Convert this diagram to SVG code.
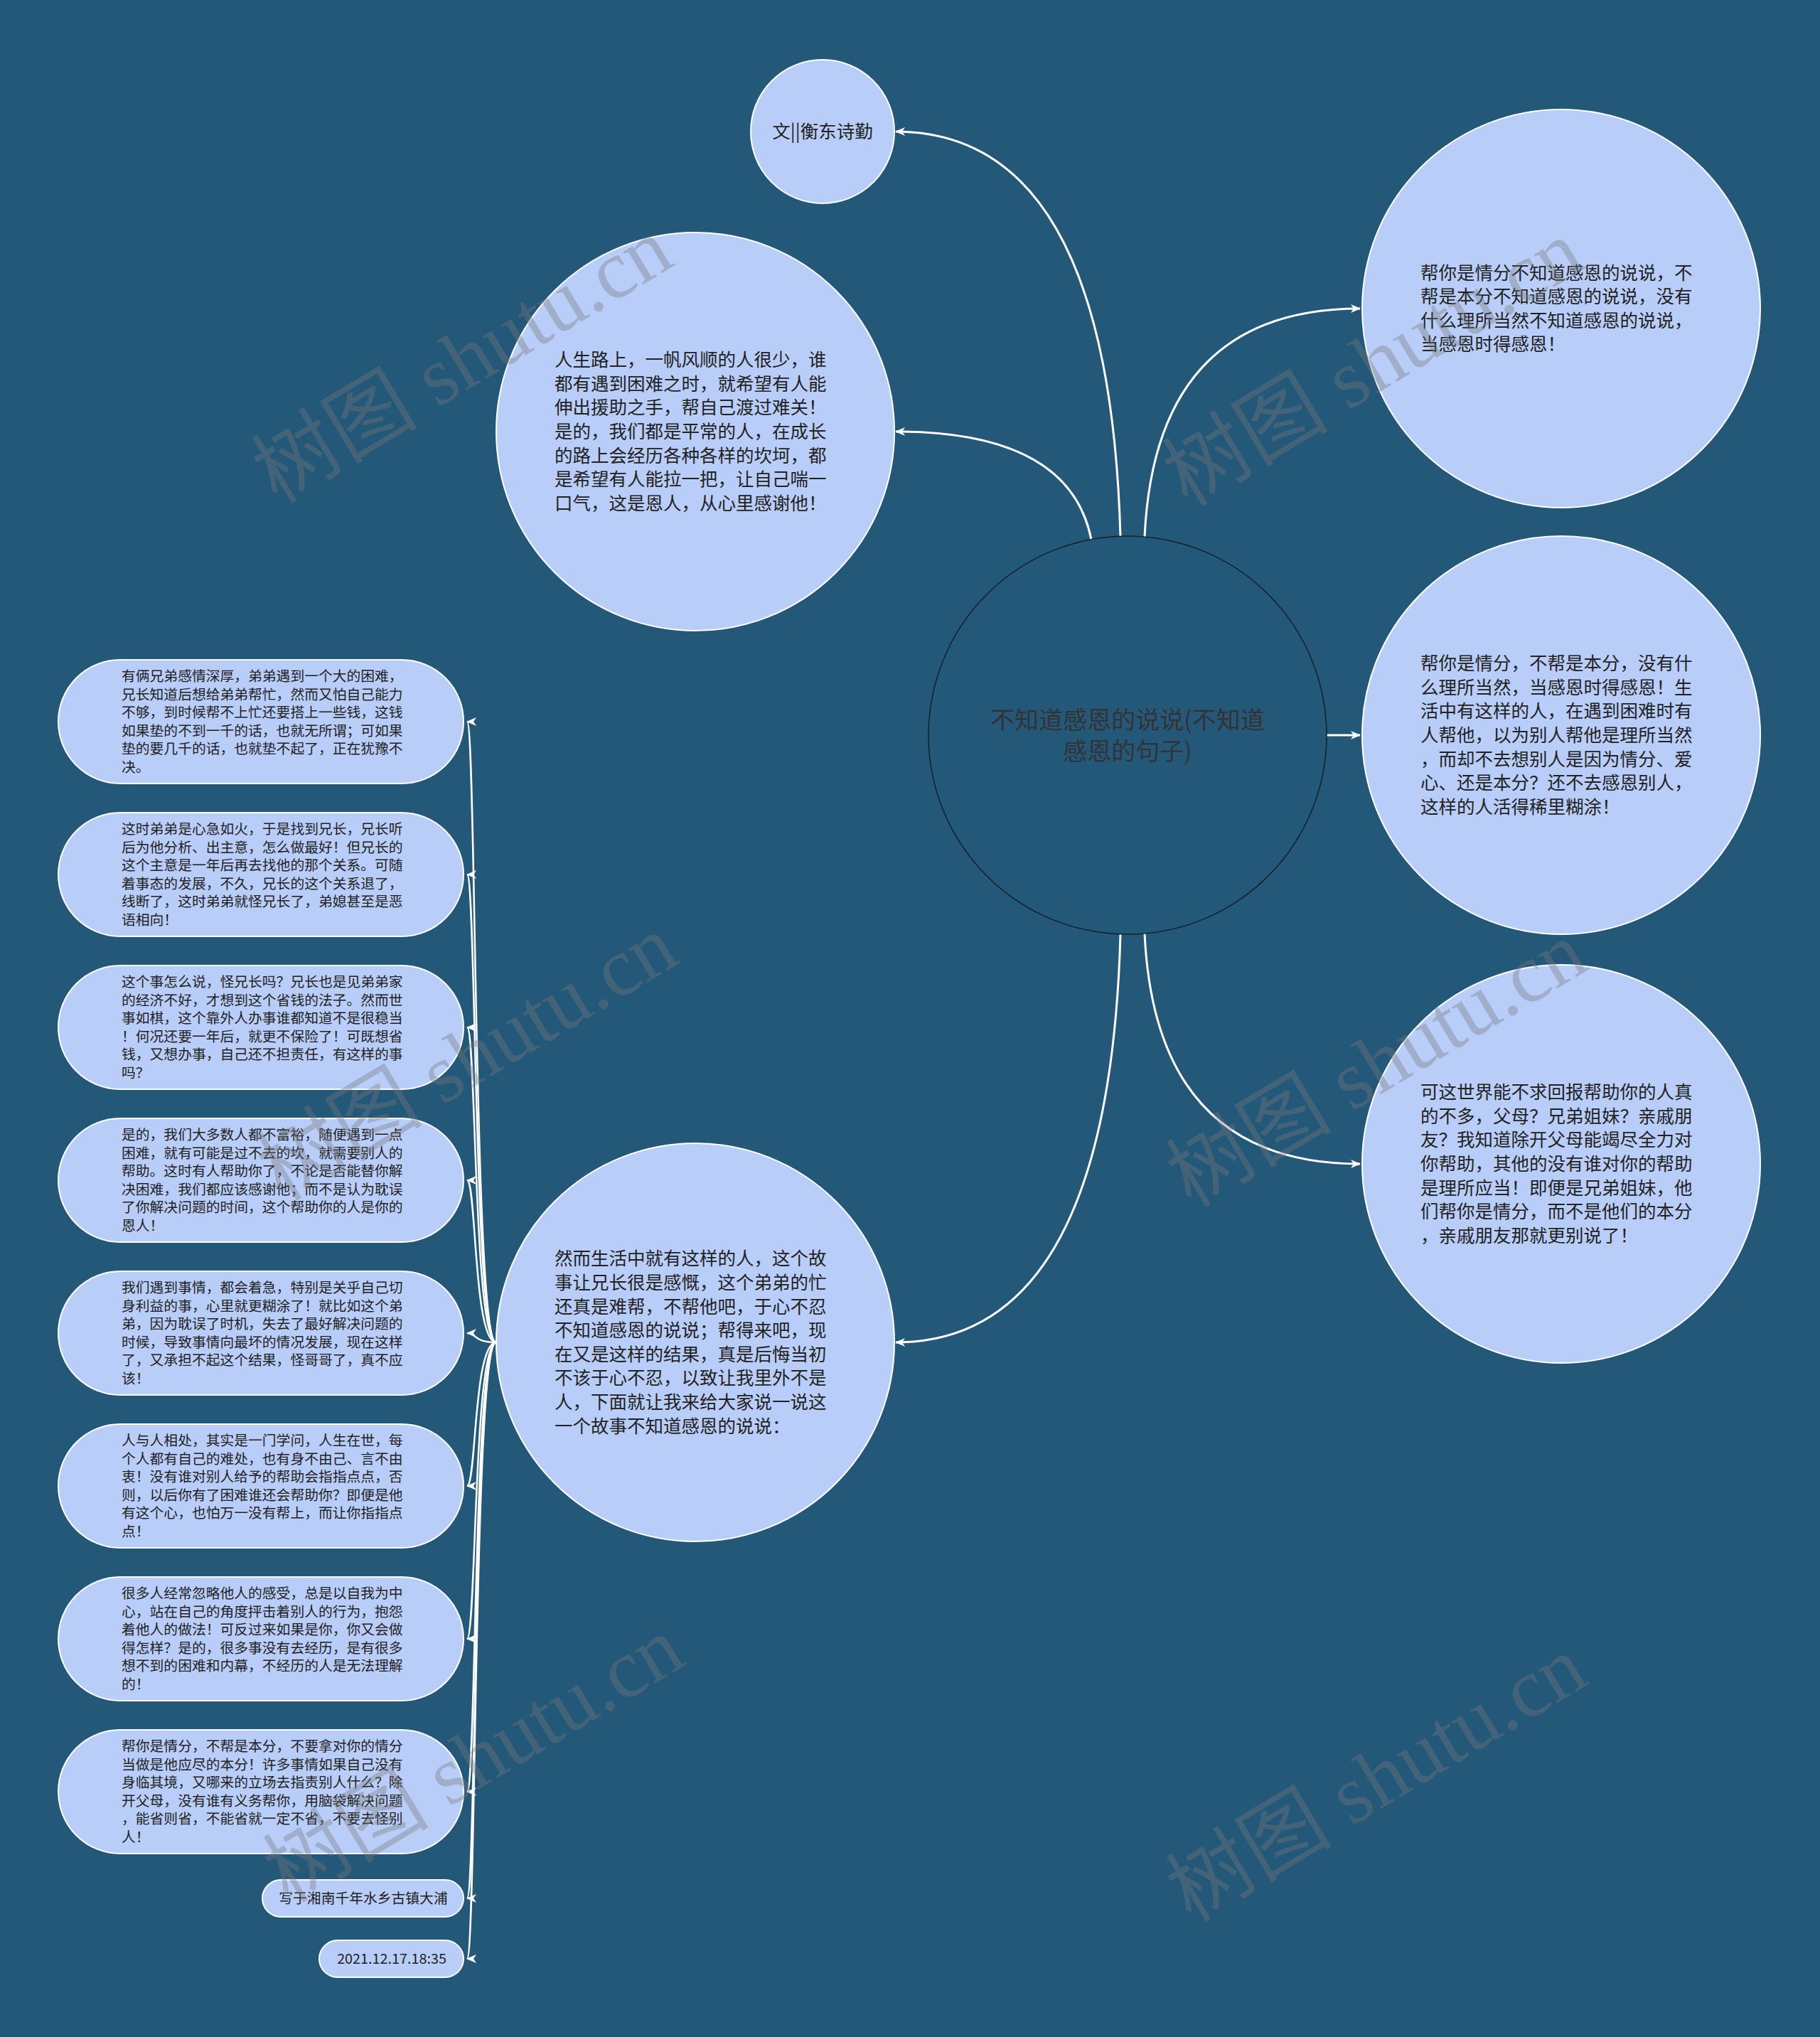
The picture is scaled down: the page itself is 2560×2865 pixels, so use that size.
<svg xmlns="http://www.w3.org/2000/svg" width="2560" height="2865" viewBox="0 0 2560 2865">
<style>
.bg{fill:#245878}
.node{fill:#b8cdf8;stroke:#ffffff;stroke-width:2}
.root{fill:#245878;stroke:#13202b;stroke-width:1.5}
.t{font-family:"Noto Sans CJK SC","Noto Sans",sans-serif;fill:#222222}
.big{font-size:25.5px}
.leaf{font-size:19.8px}
.rt{font-size:34px;fill:#333333;text-anchor:middle}
.edge{fill:none;stroke:#ffffff;stroke-width:3}
.ledge{fill:none;stroke:#ffffff;stroke-width:2.5}
.wm{font-family:"Liberation Serif","Noto Sans CJK SC",serif;font-size:117px;fill:#7a7a7a;opacity:0.37;text-anchor:middle}
</style>
<defs>
<marker id="arr" markerUnits="userSpaceOnUse" markerWidth="14" markerHeight="12" viewBox="0 0 14 12" refX="13" refY="6" orient="auto">
<path d="M0,0 L14,6 L0,12 L4,6 z" fill="#ffffff"/>
</marker>
</defs>
<rect class="bg" x="0" y="0" width="2560" height="2865"/>

<g id="connectors">
<path class="edge" marker-end="url(#arr)" d="M1576,755 Q1560,185 1260,185"/>
<path class="edge" marker-end="url(#arr)" d="M1535,759 Q1505,607 1260,607"/>
<path class="edge" marker-end="url(#arr)" d="M1610,755 Q1625,434 1913,434"/>
<path class="edge" marker-end="url(#arr)" d="M1866,1034 L1913,1034"/>
<path class="edge" marker-end="url(#arr)" d="M1610,1313 Q1625,1637 1913,1637"/>
<path class="edge" marker-end="url(#arr)" d="M1576,1314 Q1560,1888 1260,1888"/>
<path class="ledge" marker-end="url(#arr)" d="M698,1888 C666,1888 670,1015 657,1015"/>
<path class="ledge" marker-end="url(#arr)" d="M698,1888 C666,1888 670,1230 657,1230"/>
<path class="ledge" marker-end="url(#arr)" d="M698,1888 C666,1888 670,1445 657,1445"/>
<path class="ledge" marker-end="url(#arr)" d="M698,1888 C666,1888 670,1660 657,1660"/>
<path class="ledge" marker-end="url(#arr)" d="M698,1888 C666,1888 670,1875 657,1875"/>
<path class="ledge" marker-end="url(#arr)" d="M698,1888 C666,1888 670,2090 657,2090"/>
<path class="ledge" marker-end="url(#arr)" d="M698,1888 C666,1888 670,2305 657,2305"/>
<path class="ledge" marker-end="url(#arr)" d="M698,1888 C666,1888 670,2520 657,2520"/>
<path class="ledge" marker-end="url(#arr)" d="M698,1888 C666,1888 670,2670 657,2670"/>
<path class="ledge" marker-end="url(#arr)" d="M698,1888 C666,1888 670,2755 657,2755"/>
</g>

<g id="root" transform="translate(1586,1034)">
<circle class="root" r="280"/>
<text class="t rt"><tspan x="0" y="-9">不知道感恩的说说(不知道</tspan><tspan x="0" y="35">感恩的句子)</tspan></text>
</g>

<g id="author" transform="translate(1157,185)">
<circle class="node" r="101"/>
<text class="t big" text-anchor="middle" x="0" y="9">文||衡东诗勤</text>
</g>

<g id="n-life" transform="translate(978,607)">
<circle class="node" r="280"/>
<text class="t big">
<tspan x="-198" y="-91.8">人生路上，一帆风顺的人很少，谁</tspan>
<tspan x="-198" y="-58.2">都有遇到困难之时，就希望有人能</tspan>
<tspan x="-198" y="-24.6">伸出援助之手，帮自己渡过难关！</tspan>
<tspan x="-198" y="9">是的，我们都是平常的人，在成长</tspan>
<tspan x="-198" y="42.6">的路上会经历各种各样的坎坷，都</tspan>
<tspan x="-198" y="76.2">是希望有人能拉一把，让自己喘一</tspan>
<tspan x="-198" y="109.8">口气，这是恩人，从心里感谢他！</tspan>
</text>
</g>

<g id="n-story" transform="translate(978,1888)">
<circle class="node" r="280"/>
<text class="t big">
<tspan x="-198" y="-108.6">然而生活中就有这样的人，这个故</tspan>
<tspan x="-198" y="-75">事让兄长很是感慨，这个弟弟的忙</tspan>
<tspan x="-198" y="-41.4">还真是难帮，不帮他吧，于心不忍</tspan>
<tspan x="-198" y="-7.8">不知道感恩的说说；帮得来吧，现</tspan>
<tspan x="-198" y="25.8">在又是这样的结果，真是后悔当初</tspan>
<tspan x="-198" y="59.4">不该于心不忍，以致让我里外不是</tspan>
<tspan x="-198" y="93">人，下面就让我来给大家说一说这</tspan>
<tspan x="-198" y="126.6">一个故事不知道感恩的说说：</tspan>
</text>
</g>

<g id="n-r1" transform="translate(2196,434)">
<circle class="node" r="280"/>
<text class="t big">
<tspan x="-198" y="-41.4">帮你是情分不知道感恩的说说，不</tspan>
<tspan x="-198" y="-7.8">帮是本分不知道感恩的说说，没有</tspan>
<tspan x="-198" y="25.8">什么理所当然不知道感恩的说说，</tspan>
<tspan x="-198" y="59.4">当感恩时得感恩！</tspan>
</text>
</g>

<g id="n-r2" transform="translate(2196,1034)">
<circle class="node" r="280"/>
<text class="t big">
<tspan x="-198" y="-91.8">帮你是情分，不帮是本分，没有什</tspan>
<tspan x="-198" y="-58.2">么理所当然，当感恩时得感恩！生</tspan>
<tspan x="-198" y="-24.6">活中有这样的人，在遇到困难时有</tspan>
<tspan x="-198" y="9">人帮他，以为别人帮他是理所当然</tspan>
<tspan x="-198" y="42.6">，而却不去想别人是因为情分、爱</tspan>
<tspan x="-198" y="76.2">心、还是本分？还不去感恩别人，</tspan>
<tspan x="-198" y="109.8">这样的人活得稀里糊涂！</tspan>
</text>
</g>

<g id="n-r3" transform="translate(2196,1637)">
<circle class="node" r="280"/>
<text class="t big">
<tspan x="-198" y="-91.8">可这世界能不求回报帮助你的人真</tspan>
<tspan x="-198" y="-58.2">的不多，父母？兄弟姐妹？亲戚朋</tspan>
<tspan x="-198" y="-24.6">友？我知道除开父母能竭尽全力对</tspan>
<tspan x="-198" y="9">你帮助，其他的没有谁对你的帮助</tspan>
<tspan x="-198" y="42.6">是理所应当！即便是兄弟姐妹，他</tspan>
<tspan x="-198" y="76.2">们帮你是情分，而不是他们的本分</tspan>
<tspan x="-198" y="109.8">，亲戚朋友那就更别说了！</tspan>
</text>
</g>

<g id="leaf1" transform="translate(0,1015)">
<rect class="node" x="82" y="-87" width="570" height="174" rx="87"/>
<text class="t leaf">
<tspan x="171" y="-57">有俩兄弟感情深厚，弟弟遇到一个大的困难，</tspan>
<tspan x="171" y="-31.4">兄长知道后想给弟弟帮忙，然而又怕自己能力</tspan>
<tspan x="171" y="-5.8">不够，到时候帮不上忙还要搭上一些钱，这钱</tspan>
<tspan x="171" y="19.8">如果垫的不到一千的话，也就无所谓；可如果</tspan>
<tspan x="171" y="45.4">垫的要几千的话，也就垫不起了，正在犹豫不</tspan>
<tspan x="171" y="71">决。</tspan>
</text>
</g>

<g id="leaf2" transform="translate(0,1230)">
<rect class="node" x="82" y="-87" width="570" height="174" rx="87"/>
<text class="t leaf">
<tspan x="171" y="-57">这时弟弟是心急如火，于是找到兄长，兄长听</tspan>
<tspan x="171" y="-31.4">后为他分析、出主意，怎么做最好！但兄长的</tspan>
<tspan x="171" y="-5.8">这个主意是一年后再去找他的那个关系。可随</tspan>
<tspan x="171" y="19.8">着事态的发展，不久，兄长的这个关系退了，</tspan>
<tspan x="171" y="45.4">线断了，这时弟弟就怪兄长了，弟媳甚至是恶</tspan>
<tspan x="171" y="71">语相向！</tspan>
</text>
</g>

<g id="leaf3" transform="translate(0,1445)">
<rect class="node" x="82" y="-87" width="570" height="174" rx="87"/>
<text class="t leaf">
<tspan x="171" y="-57">这个事怎么说，怪兄长吗？兄长也是见弟弟家</tspan>
<tspan x="171" y="-31.4">的经济不好，才想到这个省钱的法子。然而世</tspan>
<tspan x="171" y="-5.8">事如棋，这个靠外人办事谁都知道不是很稳当</tspan>
<tspan x="171" y="19.8">！何况还要一年后，就更不保险了！可既想省</tspan>
<tspan x="171" y="45.4">钱，又想办事，自己还不担责任，有这样的事</tspan>
<tspan x="171" y="71">吗？</tspan>
</text>
</g>

<g id="leaf4" transform="translate(0,1660)">
<rect class="node" x="82" y="-87" width="570" height="174" rx="87"/>
<text class="t leaf">
<tspan x="171" y="-57">是的，我们大多数人都不富裕，随便遇到一点</tspan>
<tspan x="171" y="-31.4">困难，就有可能是过不去的坎，就需要别人的</tspan>
<tspan x="171" y="-5.8">帮助。这时有人帮助你了，不论是否能替你解</tspan>
<tspan x="171" y="19.8">决困难，我们都应该感谢他；而不是认为耽误</tspan>
<tspan x="171" y="45.4">了你解决问题的时间，这个帮助你的人是你的</tspan>
<tspan x="171" y="71">恩人！</tspan>
</text>
</g>

<g id="leaf5" transform="translate(0,1875)">
<rect class="node" x="82" y="-87" width="570" height="174" rx="87"/>
<text class="t leaf">
<tspan x="171" y="-57">我们遇到事情，都会着急，特别是关乎自己切</tspan>
<tspan x="171" y="-31.4">身利益的事，心里就更糊涂了！就比如这个弟</tspan>
<tspan x="171" y="-5.8">弟，因为耽误了时机，失去了最好解决问题的</tspan>
<tspan x="171" y="19.8">时候，导致事情向最坏的情况发展，现在这样</tspan>
<tspan x="171" y="45.4">了，又承担不起这个结果，怪哥哥了，真不应</tspan>
<tspan x="171" y="71">该！</tspan>
</text>
</g>

<g id="leaf6" transform="translate(0,2090)">
<rect class="node" x="82" y="-87" width="570" height="174" rx="87"/>
<text class="t leaf">
<tspan x="171" y="-57">人与人相处，其实是一门学问，人生在世，每</tspan>
<tspan x="171" y="-31.4">个人都有自己的难处，也有身不由己、言不由</tspan>
<tspan x="171" y="-5.8">衷！没有谁对别人给予的帮助会指指点点，否</tspan>
<tspan x="171" y="19.8">则，以后你有了困难谁还会帮助你？即便是他</tspan>
<tspan x="171" y="45.4">有这个心，也怕万一没有帮上，而让你指指点</tspan>
<tspan x="171" y="71">点！</tspan>
</text>
</g>

<g id="leaf7" transform="translate(0,2305)">
<rect class="node" x="82" y="-87" width="570" height="174" rx="87"/>
<text class="t leaf">
<tspan x="171" y="-57">很多人经常忽略他人的感受，总是以自我为中</tspan>
<tspan x="171" y="-31.4">心，站在自己的角度抨击着别人的行为，抱怨</tspan>
<tspan x="171" y="-5.8">着他人的做法！可反过来如果是你，你又会做</tspan>
<tspan x="171" y="19.8">得怎样？是的，很多事没有去经历，是有很多</tspan>
<tspan x="171" y="45.4">想不到的困难和内幕，不经历的人是无法理解</tspan>
<tspan x="171" y="71">的！</tspan>
</text>
</g>

<g id="leaf8" transform="translate(0,2520)">
<rect class="node" x="82" y="-87" width="570" height="174" rx="87"/>
<text class="t leaf">
<tspan x="171" y="-57">帮你是情分，不帮是本分，不要拿对你的情分</tspan>
<tspan x="171" y="-31.4">当做是他应尽的本分！许多事情如果自己没有</tspan>
<tspan x="171" y="-5.8">身临其境，又哪来的立场去指责别人什么？除</tspan>
<tspan x="171" y="19.8">开父母，没有谁有义务帮你，用脑袋解决问题</tspan>
<tspan x="171" y="45.4">，能省则省，不能省就一定不省，不要去怪别</tspan>
<tspan x="171" y="71">人！</tspan>
</text>
</g>

<g id="leaf9" transform="translate(0,2670)">
<rect class="node" x="369" y="-26" width="283" height="52" rx="26"/>
<text class="t leaf" text-anchor="middle" x="511" y="7">写于湘南千年水乡古镇大浦</text>
</g>

<g id="leaf10" transform="translate(0,2755)">
<rect class="node" x="449" y="-26" width="203" height="52" rx="26"/>
<text class="t leaf" text-anchor="middle" x="551" y="7">2021.12.17.18:35</text>
</g>

<g id="watermarks">
<text class="wm" transform="translate(651,508) rotate(-31)" y="38">树图 shutu.cn</text>
<text class="wm" transform="translate(1932,512) rotate(-31)" y="38">树图 shutu.cn</text>
<text class="wm" transform="translate(658,1489) rotate(-31)" y="38">树图 shutu.cn</text>
<text class="wm" transform="translate(1937,1498) rotate(-31)" y="38">树图 shutu.cn</text>
<text class="wm" transform="translate(667,2476) rotate(-31)" y="38">树图 shutu.cn</text>
<text class="wm" transform="translate(1937,2503) rotate(-31)" y="38">树图 shutu.cn</text>
</g>
</svg>
